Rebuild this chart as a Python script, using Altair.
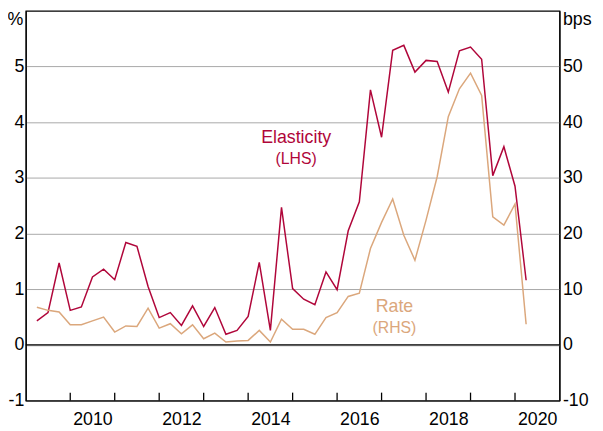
import altair as alt
import pandas as pd

# Quarter-end dates (decimal years), 2009 Q1 .. 2020 Q1
dates = [2009.25 + 0.25 * k for k in range(45)]

elasticity = [0.43, 0.58, 1.47, 0.62, 0.68, 1.22, 1.36, 1.17, 1.84, 1.77,
              1.05, 0.49, 0.58, 0.35, 0.70, 0.33, 0.67, 0.19, 0.26, 0.51,
              1.48, 0.26, 2.47, 1.01, 0.82, 0.72, 1.31, 0.99, 2.05, 2.57,
              4.58, 3.73, 5.29, 5.38, 4.90, 5.11, 5.09, 4.54, 5.28, 5.35,
              5.13, 3.04, 3.56, 2.85, 1.16]

rate_bps = [6.75, 6.2, 5.9, 3.6, 3.6, 4.3, 5.0, 2.3, 3.4, 3.3,
            6.6, 3.0, 3.8, 2.0, 3.6, 1.1, 2.1, 0.5, 0.7, 0.8,
            2.6, 0.5, 4.6, 2.8, 2.8, 1.9, 4.9, 5.8, 8.7, 9.3,
            17.3, 22.0, 26.2, 19.7, 15.2, 22.4, 30.2, 41.0, 46.0, 48.8,
            44.8, 23.0, 21.5, 25.3, 3.7]

year_ticks = list(range(2010, 2021))
year_labels = [2010, 2012, 2014, 2016, 2018, 2020]
left_ticks = [-1, 0, 1, 2, 3, 4, 5]
right_ticks = [-10, 0, 10, 20, 30, 40, 50]

lhs_big = pd.DataFrame({"x": [2015.08], "y": [3.72], "t": ["Elasticity"]})
lhs_small = pd.DataFrame({"x": [2015.08], "y": [3.33], "t": ["(LHS)"]})
rhs_big = pd.DataFrame({"x": [2017.29], "y": [6.86], "t": ["Rate"]})
rhs_small = pd.DataFrame({"x": [2017.29], "y": [2.97], "t": ["(RHS)"]})

RED = "#b0063a"
TAN = "#dba77c"
FONT = "Liberation Sans"
FS = 18
W, H = 541, 395
half_year_px = W / 12 / 2
tick_len = 8 / (H / 7)   # 8px expressed in left-axis units

df = pd.DataFrame({"date": dates, "elasticity": elasticity, "rate": rate_bps})

xscale = alt.Scale(domain=[2009, 2021], nice=False, zero=False)
xaxis = alt.Axis(values=year_labels, format="d", labelOffset=half_year_px,
                 ticks=False, grid=False, labelPadding=10,
                 labelFontSize=FS, labelFont=FONT, labelColor="black",
                 domainColor="black", domainWidth=1.2, title=None,
                 labelFlush=False)
lscale = alt.Scale(domain=[-1, 6], nice=False, zero=False)
rscale = alt.Scale(domain=[-10, 60], nice=False, zero=False)

laxis = alt.Axis(values=left_ticks, grid=True, gridColor="#a8a8a8",
                 gridWidth=1, ticks=False, labelPadding=2,
                 labelFontSize=FS, labelFont=FONT, labelColor="black",
                 labelExpr="'' + datum.value",
                 domainColor="black", domainWidth=1.2,
                 title="%", titleAngle=0, titleAlign="right",
                 titleBaseline="top", titleX=-3, titleY=0,
                 titleFontSize=FS, titleFont=FONT,
                 titleFontWeight="normal", titleColor="black")
raxis = alt.Axis(orient="right", values=right_ticks, grid=False,
                 ticks=False, labelPadding=3,
                 labelFontSize=FS, labelFont=FONT, labelColor="black",
                 labelExpr="'' + datum.value",
                 domainColor="black", domainWidth=1.2,
                 title="bps", titleAngle=0, titleAlign="left",
                 titleBaseline="top", titleX=3, titleY=0,
                 titleFontSize=FS, titleFont=FONT,
                 titleFontWeight="normal", titleColor="black")

elast_line = alt.Chart(df).mark_line(color=RED, strokeWidth=1.5).encode(
    x=alt.X("date:Q", scale=xscale, axis=xaxis),
    y=alt.Y("elasticity:Q", scale=lscale, axis=laxis),
)

zero_rule = alt.Chart(pd.DataFrame({"z": [0]})).mark_rule(
    color="black", strokeWidth=1.2).encode(
    y=alt.Y("z:Q", scale=lscale, axis=laxis))

# inward year ticks on the bottom axis
tick_df = pd.DataFrame({"yr": year_ticks,
                        "b0": [-1.0] * len(year_ticks),
                        "b1": [-1.0 + tick_len] * len(year_ticks)})
ticks = alt.Chart(tick_df).mark_rule(color="black", strokeWidth=1.3).encode(
    x=alt.X("yr:Q", scale=xscale, axis=xaxis),
    y=alt.Y("b0:Q", scale=lscale, axis=laxis),
    y2="b1:Q",
)


def label(data, color, size, scale, axis):
    return alt.Chart(data).mark_text(
        color=color, font=FONT, fontSize=size, align="center",
        baseline="middle").encode(
        x=alt.X("x:Q", scale=xscale, axis=xaxis),
        y=alt.Y("y:Q", scale=scale, axis=axis),
        text="t:N",
    )


left = alt.layer(elast_line, zero_rule, ticks,
                 label(lhs_big, RED, 18, lscale, laxis),
                 label(lhs_small, RED, 16, lscale, laxis))

rate_line = alt.Chart(df).mark_line(color=TAN, strokeWidth=1.5).encode(
    x=alt.X("date:Q", scale=xscale, axis=xaxis),
    y=alt.Y("rate:Q", scale=rscale, axis=raxis),
)

right = alt.layer(rate_line,
                  label(rhs_big, TAN, 18, rscale, raxis),
                  label(rhs_small, TAN, 16, rscale, raxis))

chart = alt.layer(left, right).resolve_scale(y="independent").properties(
    width=W, height=H,
    background="white",
    autosize=alt.AutoSizeParams(type="none"),
    padding={"left": 18, "top": 0, "right": 36, "bottom": 28},
).configure_view(stroke="black", strokeWidth=1.2)

chart.save("out.html", embed_options={"renderer": "svg", "actions": False})
